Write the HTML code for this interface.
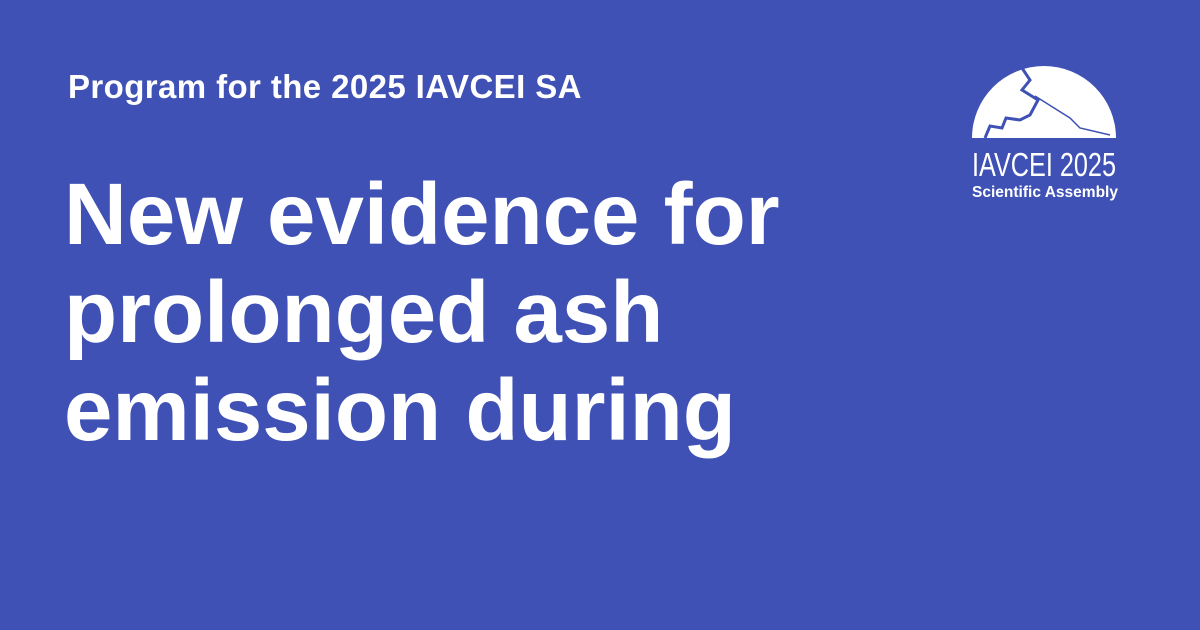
<!DOCTYPE html>
<html><head><meta charset="utf-8"><style>
html,body{margin:0;padding:0}
body{width:1200px;height:630px;background:#3f51b5;position:relative;overflow:hidden;font-family:"Liberation Sans",sans-serif;color:#fff}
.sub{position:absolute;left:68px;top:68px;font-size:33px;letter-spacing:0.4px;font-weight:bold;white-space:nowrap}
.title{position:absolute;left:64px;top:166px;font-size:87px;font-weight:bold;line-height:98px;white-space:nowrap}
.logo{position:absolute;left:960px;top:55px;width:170px;height:150px}
</style></head><body>
<div class="sub">Program for the 2025 IAVCEI SA</div>
<div class="title">New evidence for<br>prolonged ash<br>emission during</div>
<svg class="logo" viewBox="960 55 170 150">
<path d="M972 138 A72 72 0 0 1 1116 138 Z" fill="#fff"/>
<path d="M1018 62 L1030 80 L1022 90 L1038 100 L1030 115 L1020 120 L1006 118 L1002 128 L990 126 L985 138" fill="none" stroke="#3f51b5" stroke-width="3"/>
<path d="M1035 96 L1070 118 L1080 128 L1110 135" fill="none" stroke="#3f51b5" stroke-width="1.5"/>
<text x="972" y="176" font-family="Liberation Sans Narrow,Liberation Sans,sans-serif" font-size="33" fill="#fff" textLength="144" lengthAdjust="spacingAndGlyphs" transform="translate(0,0)">IAVCEI 2025</text>
<text x="972" y="197" font-family="Liberation Sans,sans-serif" font-weight="bold" font-size="16" fill="#fff" textLength="146" lengthAdjust="spacingAndGlyphs">Scientific Assembly</text>
</svg>
</body></html>
